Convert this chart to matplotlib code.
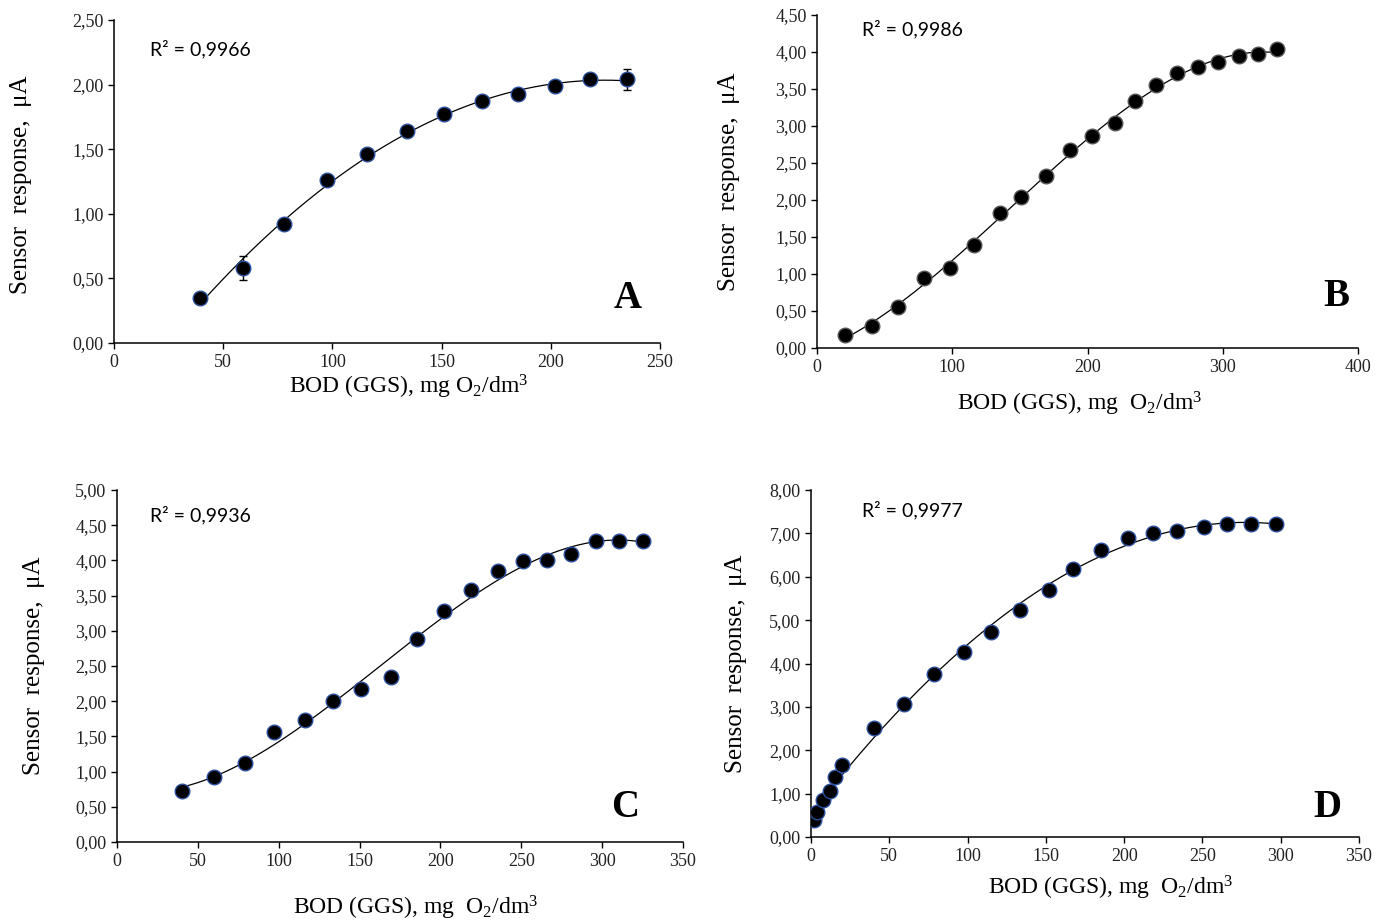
"""
Sensor response vs BOD (GGS) for four biosensor variants, panels A-D.
"""
import matplotlib
matplotlib.use("Agg")
import numpy as np
import matplotlib.pyplot as plt
from matplotlib.ticker import FuncFormatter

plt.rcParams["font.family"] = ["Liberation Serif", "DejaVu Serif"]
plt.rcParams["mathtext.fontset"] = "custom"
plt.rcParams["mathtext.rm"] = "Liberation Serif"
plt.rcParams["mathtext.it"] = "Liberation Serif:italic"

# Panel A
a_x = [39.4, 59, 78, 97.5, 116, 134, 151, 168.5, 185, 202, 218, 235]
a_y = [0.35, 0.58, 0.92, 1.26, 1.46, 1.64, 1.77, 1.87, 1.93, 1.99, 2.04, 2.04]
a_err = [0.04, 0.09, 0.04, 0.03, 0.03, 0.03, 0.03, 0.02, 0.03, 0.02, 0.02, 0.08]

# Panel B
b_x = [21, 41, 60, 79, 98, 116, 135, 151, 169, 187, 203.5, 220, 235, 251, 266, 281.5,
       296.5, 312, 326, 340]
b_y = [0.17, 0.30, 0.56, 0.95, 1.08, 1.39, 1.83, 2.04, 2.32, 2.67, 2.86, 3.04, 3.34,
       3.55, 3.71, 3.80, 3.87, 3.94, 3.97, 4.04]

# Panel C
c_x = [40.5, 60, 79, 97.3, 116, 133.5, 151, 169.3, 185.6, 202.4, 219, 235.3, 251,
       266, 281, 296, 310.6, 325.5]
c_y = [0.73, 0.93, 1.12, 1.56, 1.73, 2.00, 2.17, 2.35, 2.88, 3.28, 3.58, 3.85, 3.99,
       4.01, 4.09, 4.27, 4.28, 4.28]

# Panel D
d_x = [1.9, 3.6, 7.6, 12.3, 15.6, 19.7, 40, 59.7, 78.7, 97.6, 114.7, 133.6, 151.7,
       167.5, 185.5, 202.4, 218.5, 234, 251, 266, 281.3, 296.7]
d_y = [0.40, 0.57, 0.86, 1.07, 1.39, 1.66, 2.52, 3.07, 3.75, 4.26, 4.73, 5.24, 5.70,
       6.18, 6.62, 6.90, 7.00, 7.06, 7.15, 7.22, 7.22, 7.22]

W, H = 1388, 924
fig = plt.figure(figsize=(W / 100, H / 100), dpi=100)
fig.patch.set_facecolor("white")


def px_axes(left, right, top, bottom):
    return fig.add_axes([left / W, 1 - bottom / H, (right - left) / W, (bottom - top) / H])


comma = FuncFormatter(lambda v, p: f"{v:.2f}".replace(".", ","))

XLAB_A = "BOD (GGS), mg O$_{\\mathrm{2}}$/dm$^{\\mathrm{3}}$"
XLAB = "BOD (GGS), mg  O$_{\\mathrm{2}}$/dm$^{\\mathrm{3}}$"

panels = [
    # x, y, err, pixel rect, xmax, xstep, ymax, ystep, r2, r2 pos, letter, letter pos,
    # ylabel pos, xlabel pos, xlabel, marker edge
    (a_x, a_y, a_err, (114, 660, 20, 343), 250, 50, 2.5, 0.5, "0,9966", (0.066, 0.91),
     "A", (0.94, 0.139), (-0.150, 0.49), (0.54, -0.092), XLAB_A, "#2a4f9e"),
    (b_x, b_y, None, (817, 1358, 15, 348), 400, 100, 4.5, 0.5, "0,9986", (0.083, 0.958),
     "B", (0.959, 0.156), (-0.142, 0.5), (0.486, -0.126), XLAB, "#555555"),
    (c_x, c_y, None, (117, 683, 490, 842), 350, 50, 5.0, 0.5, "0,9936", (0.058, 0.929),
     "C", (0.897, 0.097), (-0.127, 0.5), (0.528, -0.148), XLAB, "#2a4f9e"),
    (d_x, d_y, None, (811, 1359, 490, 837), 350, 50, 8.0, 1.0, "0,9977", (0.093, 0.942),
     "D", (0.943, 0.084), (-0.117, 0.5), (0.546, -0.107), XLAB, "#2a4f9e"),
]

for (xs, ys, err, rect, xmax, xstep, ymax, ystep, r2, r2pos, letter, lpos,
     ylpos, xlpos, xlab, edge) in panels:
    ax = px_axes(*rect)
    xs = np.array(xs)
    ys = np.array(ys)

    # polynomial trendline, as in the original spreadsheet fit
    coef = np.polyfit(xs, ys, 3)
    xx = np.linspace(xs.min(), xs.max(), 200)
    ax.plot(xx, np.polyval(coef, xx), color="black", lw=0.9, zorder=2)

    if err is not None:
        ax.errorbar(xs, ys, yerr=err, fmt="none", ecolor="black", elinewidth=1,
                    capsize=3, capthick=1, zorder=2)
    ax.plot(xs, ys, "o", color="black", markersize=10.5, markeredgecolor=edge,
            markeredgewidth=1.0, zorder=3)

    ax.set_xlim(0, xmax)
    ax.set_ylim(0, ymax)
    ax.set_xticks(np.arange(0, xmax + 1, xstep))
    ax.set_yticks(np.arange(0, ymax + 0.001, ystep))
    ax.yaxis.set_major_formatter(comma)
    ax.tick_params(direction="out", length=4, width=1, labelsize=13, color="black",
                   labelcolor="#222222")
    ax.tick_params(axis="x", pad=4)
    for s in ["top", "right"]:
        ax.spines[s].set_visible(False)
    for s in ["left", "bottom"]:
        ax.spines[s].set_linewidth(1.1)

    ax.set_ylabel("Sensor  response,  μA", fontsize=18)
    ax.yaxis.set_label_coords(*ylpos)
    ax.set_xlabel(xlab, fontsize=17)
    ax.xaxis.set_label_coords(*xlpos)

    ax.text(r2pos[0], r2pos[1], f"R² = {r2}", transform=ax.transAxes, ha="left",
            va="center", fontsize=14, family=["Lato", "DejaVu Sans"])
    ax.text(lpos[0], lpos[1], letter, transform=ax.transAxes, ha="center", va="center",
            fontsize=28, fontweight="bold")

fig.savefig("out.png", dpi=100, facecolor="white")
plt.close(fig)
